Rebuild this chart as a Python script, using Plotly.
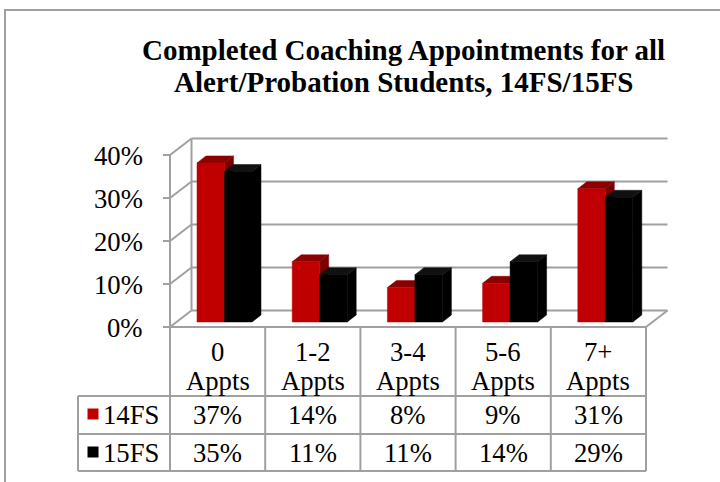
import plotly.graph_objects as go

# ---------------- data ----------------
categories = ["0", "1-2", "3-4", "5-6", "7+"]
category_suffix = "Appts"
series_names = ["14FS", "15FS"]
values_14fs = [37, 14, 8, 9, 31]
values_15fs = [35, 11, 11, 14, 29]
y_ticks = [0, 10, 20, 30, 40]
title_lines = ["Completed Coaching Appointments for all", "Alert/Probation Students, 14FS/15FS"]

# ---------------- geometry (pixels) ----------------
W, H = 720, 482
X0, CW = 170.0, 95.2        # front-plane x of category 0 start, px per category
Y0, PY = 327.0, 4.3         # front-plane y of 0%, px per percent
FONT = "Liberation Serif"
FS = 26.7
GRID = "#a0a0a0"

def dx(px):   # pixel distance -> category units
    return px / CW

def dy(px):   # pixel distance -> percent units
    return px / PY

def px_x(p):  # absolute pixel -> data x
    return (p - X0) / CW

def px_y(p):  # absolute pixel -> data y
    return (Y0 - p) / PY

DEPTH_X, DEPTH_Y = dx(21.5), dy(16.5)
BAR_SX, BAR_SY = dx(6.5), dy(5.0)
BAR_OFF, BAR_W = dx(20.5), dx(27.5)
BAR_DX, BAR_DY = dx(9.0), dy(7.0)
n = len(categories)
ymax = y_ticks[-1]

fig = go.Figure()

def add_lines(segments, color=GRID, width=2):
    xs, ys = [], []
    for (xa, ya), (xb, yb) in segments:
        xs += [xa, xb, None]
        ys += [ya, yb, None]
    fig.add_trace(go.Scatter(x=xs, y=ys, mode="lines", line=dict(color=color, width=width),
                             hoverinfo="skip", showlegend=False))

def add_poly(pts, color):
    xs = [p[0] for p in pts] + [pts[0][0]]
    ys = [p[1] for p in pts] + [pts[0][1]]
    fig.add_trace(go.Scatter(x=xs, y=ys, mode="lines", fill="toself", fillcolor=color,
                             line=dict(color=color, width=0.5), hoverinfo="skip", showlegend=False))

# ---- walls / gridlines ----
segs = []
for t in y_ticks:
    segs.append(((DEPTH_X, t + DEPTH_Y), (n + DEPTH_X, t + DEPTH_Y)))  # back wall gridline
    segs.append(((0, t), (DEPTH_X, t + DEPTH_Y)))                      # side wall diagonal
    segs.append(((-dx(7), t), (0, t)))                                  # tick
segs.append(((0, 0), (0, ymax)))                                        # front axis
segs.append(((DEPTH_X, DEPTH_Y), (DEPTH_X, ymax + DEPTH_Y)))            # back wall left edge
segs.append(((n, 0), (n + DEPTH_X, DEPTH_Y)))                           # floor right edge
add_lines(segs)

# ---- bars ----
series = [values_14fs, values_15fs]
front_cols = ["#c00000", "#000000"]
top_cols = ["#8b0000", "#111111"]
side_cols = ["#7a0000", "#000000"]
for i in range(n):
    for s, vals in enumerate(series):
        v = vals[i]
        xl = i + BAR_OFF + BAR_SX + s * BAR_W
        xr = xl + BAR_W
        yb = BAR_SY
        yt = BAR_SY + v
        add_poly([(xr, yb), (xr + BAR_DX, yb + BAR_DY), (xr + BAR_DX, yt + BAR_DY), (xr, yt)], side_cols[s])
        add_poly([(xl, yt), (xr, yt), (xr + BAR_DX, yt + BAR_DY), (xl + BAR_DX, yt + BAR_DY)], top_cols[s])
        add_poly([(xl, yb), (xr, yb), (xr, yt), (xl, yt)], front_cols[s])

# ---- data table lines ----
t_top, t_hdr, t_r1, t_r2 = 0.0, px_y(396), px_y(434), px_y(471)
t_left = px_x(78)
tsegs = [((0, t_top), (n, t_top)),
         ((t_left, t_hdr), (n, t_hdr)),
         ((t_left, t_r1), (n, t_r1)),
         ((t_left, t_r2), (n, t_r2)),
         ((t_left, t_hdr), (t_left, t_r2))]
for k in range(n + 1):
    tsegs.append(((k, t_top), (k, t_r2)))
add_lines(tsegs)

# ---- legend keys in table ----
fig.add_trace(go.Scatter(x=[px_x(93), px_x(93)], y=[px_y(414), px_y(452)], mode="markers",
                         marker=dict(symbol="square", size=11, color=front_cols, line=dict(width=0)),
                         hoverinfo="skip", showlegend=False))

font = dict(family=FONT, size=FS, color="black")
ann = []
# title
for k, line in enumerate(title_lines):
    ann.append(dict(x=403, y=H - (50 + 32 * k), xref="x2", yref="y2", text=f"<b>{line}</b>",
                    showarrow=False, font=dict(family=FONT, size=29, color="black")))
# y tick labels
for t in y_ticks:
    ann.append(dict(x=px_x(145), y=t - dy(1), text=f"{t}%", showarrow=False, xanchor="right", font=font))
# header
for i, c in enumerate(categories):
    ann.append(dict(x=i + 0.5, y=px_y(352), text=c, showarrow=False, font=font))
    ann.append(dict(x=i + 0.5, y=px_y(381), text=category_suffix, showarrow=False, font=font))
# rows
for r, (name, vals) in enumerate(zip(series_names, series)):
    yc = (t_hdr + t_r1) / 2 if r == 0 else (t_r1 + t_r2) / 2
    ann.append(dict(x=px_x(101), y=yc, text=name, showarrow=False, xanchor="left", font=font))
    for i, v in enumerate(vals):
        ann.append(dict(x=i + 0.5, y=yc, text=f"{v}%", showarrow=False, font=font))
for a in ann:
    a.setdefault("xref", "x")
    a.setdefault("yref", "y")

fig.update_layout(
    width=W, height=H, margin=dict(l=0, r=0, t=0, b=0),
    paper_bgcolor="white", plot_bgcolor="white", showlegend=False,
    xaxis=dict(range=[px_x(0), px_x(W)], visible=False, fixedrange=True),
    yaxis=dict(range=[px_y(H), px_y(0)], visible=False, fixedrange=True),
    xaxis2=dict(range=[0, W], visible=False, overlaying="x", fixedrange=True),
    yaxis2=dict(range=[0, H], visible=False, overlaying="y", fixedrange=True),
    annotations=ann,
    shapes=[dict(type="rect", xref="paper", yref="paper", x0=5 / W, x1=1.05, y0=-0.05, y1=1 - 10 / H,
                 line=dict(color=GRID, width=2), fillcolor="rgba(0,0,0,0)", layer="above")],
)
fig.write_html("out.html", config={"displayModeBar": False},
               post_script="document.body.style.margin='0';document.body.style.overflow='hidden';")
